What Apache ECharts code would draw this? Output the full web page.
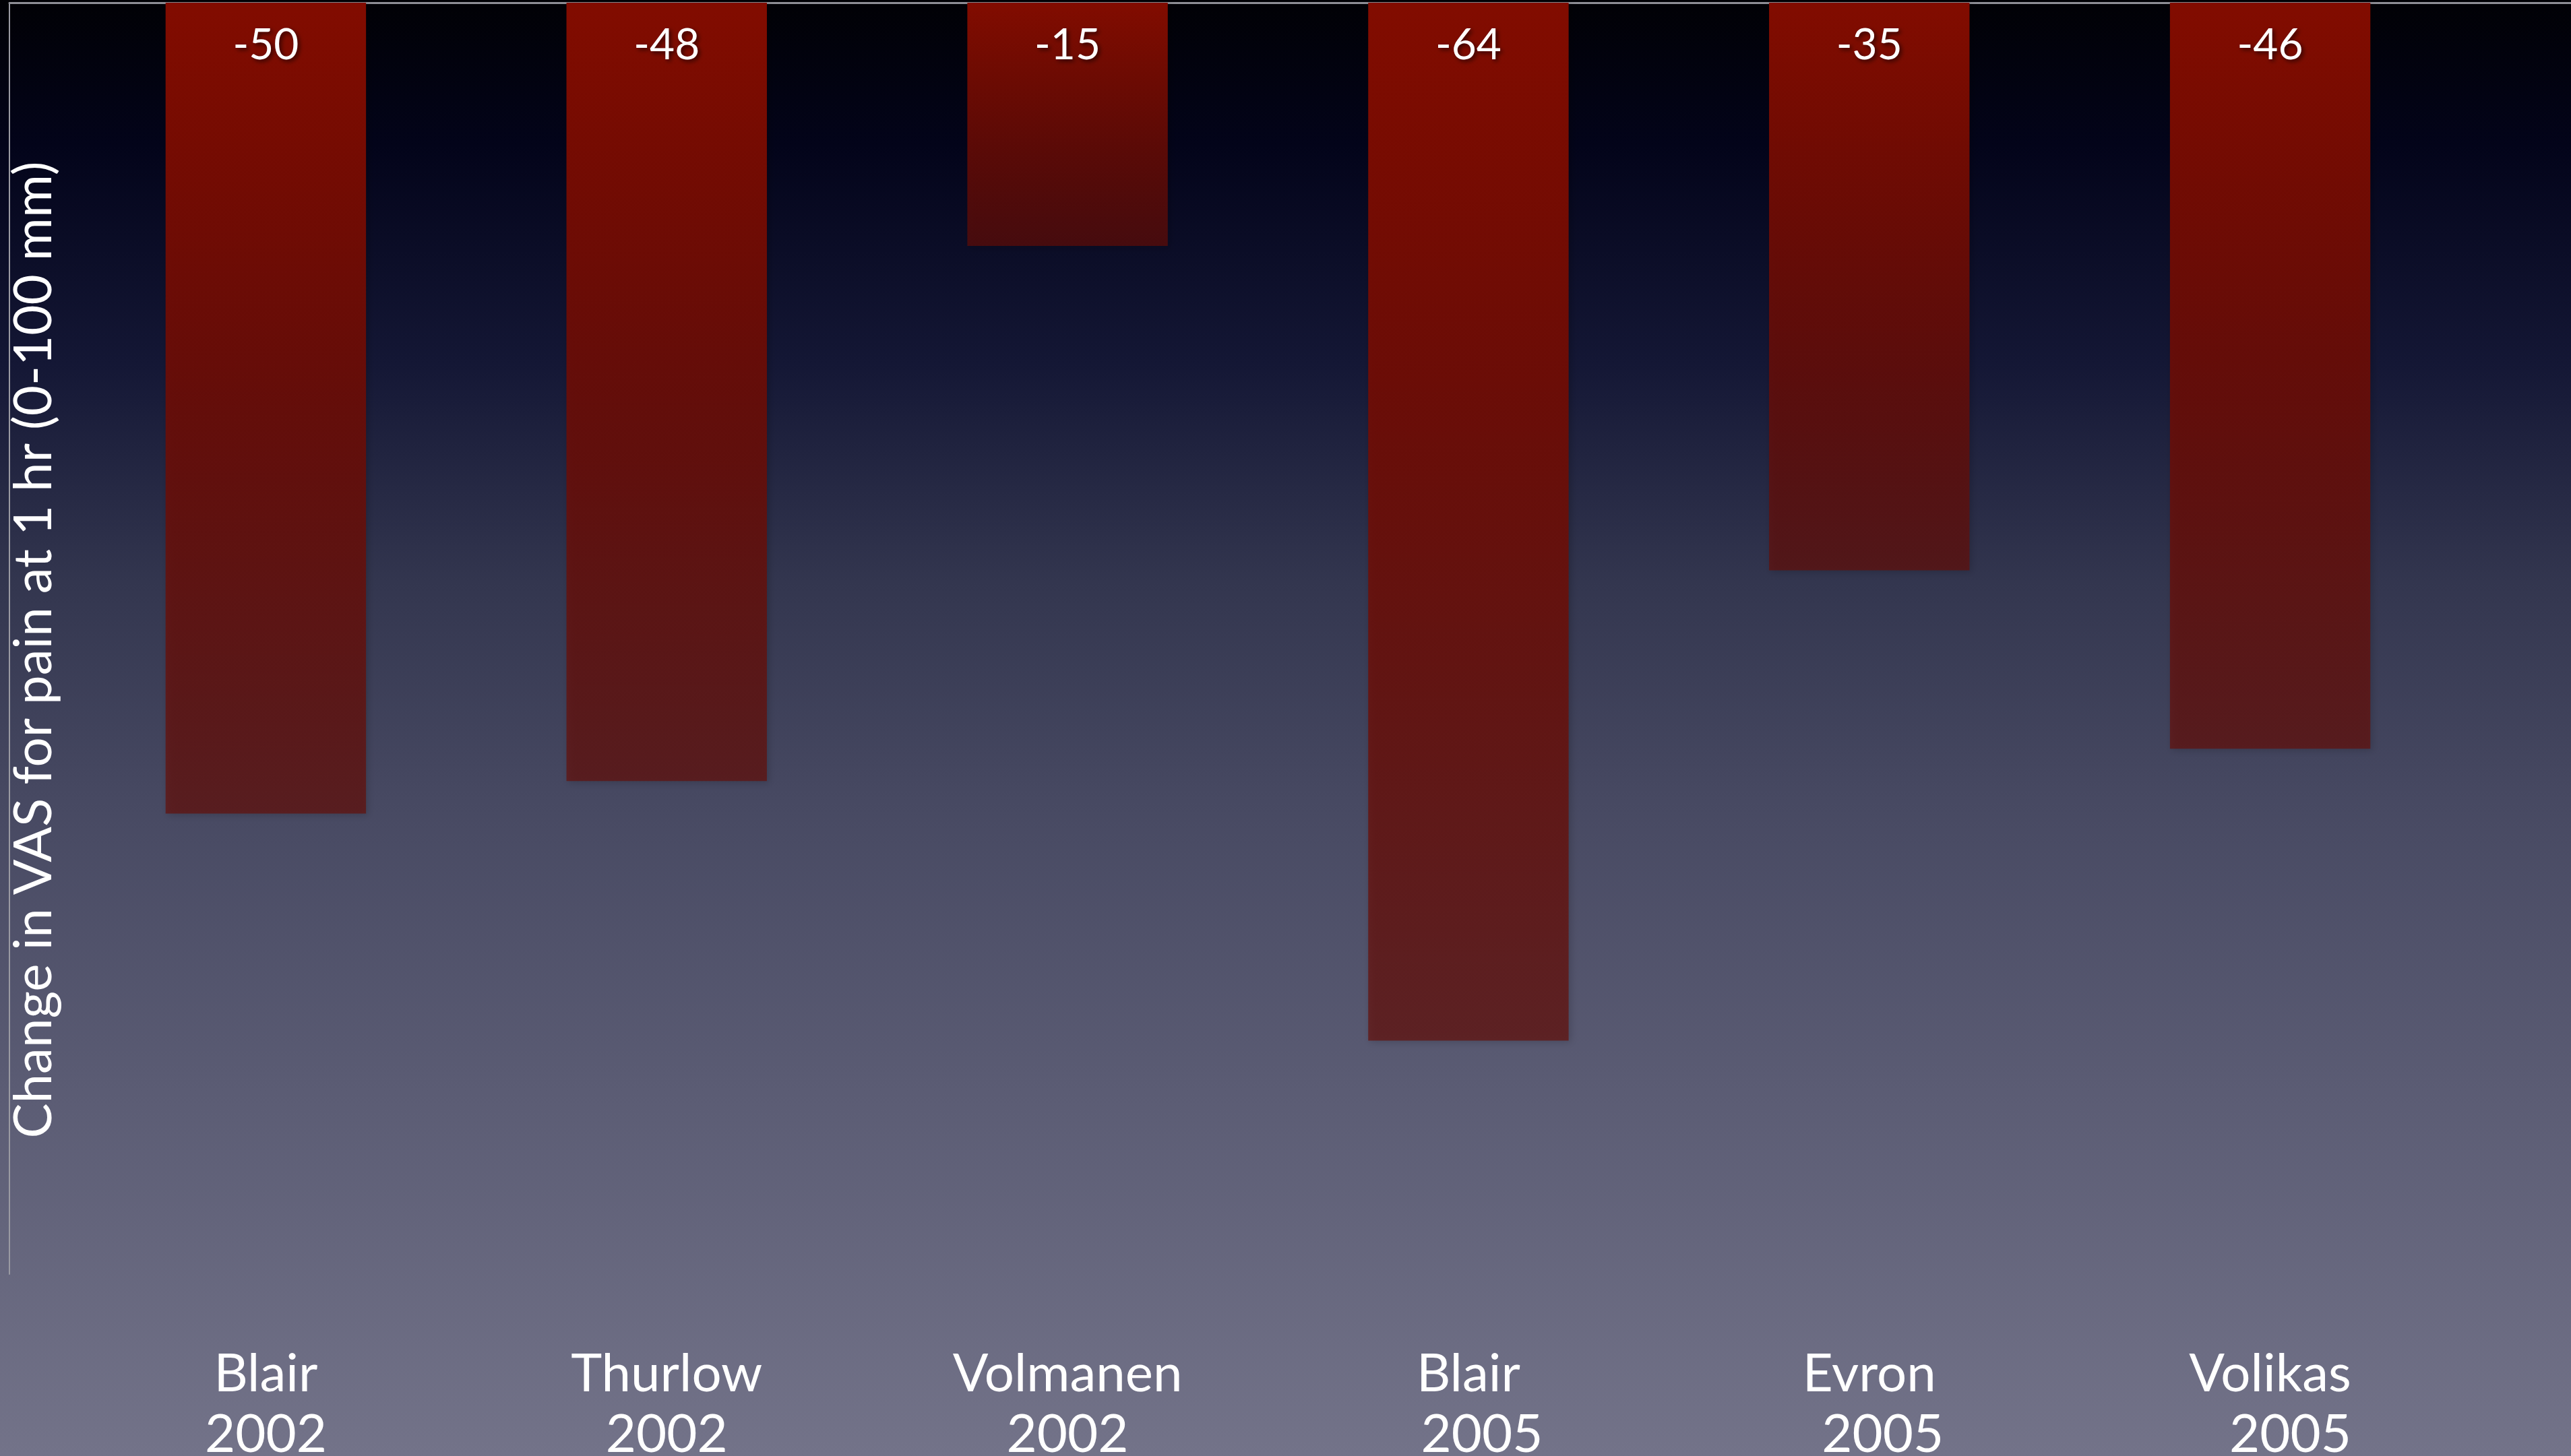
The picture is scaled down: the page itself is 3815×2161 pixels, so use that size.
<!DOCTYPE html>
<html>
<head>
<meta charset="utf-8">
<title>Change in VAS for pain at 1 hr</title>
<script src="https://cdn.jsdelivr.net/npm/echarts@6/dist/echarts.min.js"></script>
<style>
  html, body { margin: 0; padding: 0; background: #000; }
  #chart { width: 3815px; height: 2161px; }
</style>
</head>
<body>
<div id="chart"></div>
<script>
// Study labels (author / year, as typed on the slide) and change in VAS pain score at 1 hr (mm)
const categories = [
  'Blair\n2002',
  'Thurlow\n2002',
  'Volmanen\n2002',
  'Blair\n  2005',
  'Evron\n  2005',
  'Volikas\n   2005'
];
const vasChange = [-50, -48, -15, -64, -35, -46];

// Value axis extent (0 at the top, bars hang downwards)
const yMax = 0;
const yMin = -78.4;

const FONT = 'Lato, "Open Sans", sans-serif';
const chart = echarts.init(document.getElementById('chart'), null, { renderer: 'canvas' });

const option = {
  animation: false,
  backgroundColor: {
    type: 'linear', x: 0, y: 0, x2: 0, y2: 1,
    colorStops: [
      { offset: 0.00, color: '#010105' },
      { offset: 0.10, color: '#03041a' },
      { offset: 0.25, color: '#141735' },
      { offset: 0.40, color: '#33364f' },
      { offset: 0.55, color: '#474962' },
      { offset: 0.75, color: '#5b5c74' },
      { offset: 1.00, color: '#737389' }
    ]
  },
  textStyle: { fontFamily: FONT },
  grid: [
    // plot area holding the bars
    { left: 97, right: 149, top: 4, bottom: 270, containLabel: false, outerBoundsMode: 'none' },
    // frame lines along the top and left edges
    { left: 14, right: 0, top: 4, bottom: 270, containLabel: false, outerBoundsMode: 'none' }
  ],
  xAxis: [
    {
      gridIndex: 0,
      type: 'category',
      data: categories,
      position: 'bottom',
      axisLine: { show: false },
      axisTick: { show: false },
      splitLine: { show: false },
      axisLabel: {
        color: '#ffffff',
        fontSize: 78,
        lineHeight: 90,
        margin: 104,
        fontFamily: FONT,
        interval: 0
      }
    },
    {
      gridIndex: 1,
      type: 'value',
      position: 'top',
      min: 0, max: 1,
      axisLine: { show: true, onZero: false, lineStyle: { color: '#8f8f96', width: 3 } },
      axisTick: { show: false },
      axisLabel: { show: false },
      splitLine: { show: false }
    }
  ],
  yAxis: [
    {
      gridIndex: 0,
      type: 'value',
      min: yMin,
      max: yMax,
      show: false
    },
    {
      gridIndex: 1,
      type: 'value',
      min: yMin,
      max: yMax,
      position: 'left',
      axisLine: { show: true, onZero: false, lineStyle: { color: '#9a9aa2', width: 2 } },
      axisTick: { show: false },
      axisLabel: { show: false },
      splitLine: { show: false },
      name: 'Change in VAS for pain at 1 hr (0-100 mm)',
      nameLocation: 'middle',
      nameRotate: 90,
      nameGap: -76,
      nameTextStyle: {
        color: '#ffffff',
        fontSize: 78,
        fontFamily: FONT,
        padding: [0, 34, 0, 0]
      }
    }
  ],
  series: [
    {
      type: 'bar',
      xAxisIndex: 0,
      yAxisIndex: 0,
      data: vasChange,
      barCategoryGap: '50%',
      itemStyle: {
        color: {
          type: 'linear', x: 0, y: 0, x2: 0, y2: 1,
          colorStops: [
            { offset: 0, color: 'rgba(130,12,0,1)' },
            { offset: 1, color: 'rgba(102,12,5,0.66)' }
          ]
        },
        shadowColor: 'rgba(0,0,0,0.25)',
        shadowBlur: 10,
        shadowOffsetX: 3,
        shadowOffsetY: 3
      },
      label: {
        show: true,
        position: 'insideTop',
        distance: 31,
        color: '#ffffff',
        fontSize: 64,
        fontFamily: FONT,
        textShadowColor: 'rgba(0,0,0,0.6)',
        textShadowBlur: 6,
        textShadowOffsetX: 3,
        textShadowOffsetY: 3
      }
    }
  ]
};

chart.setOption(option);
</script>
</body>
</html>
